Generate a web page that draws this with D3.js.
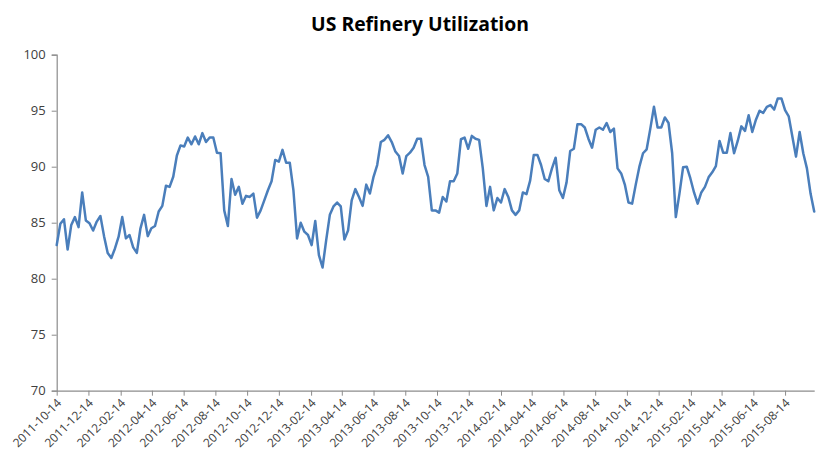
<!DOCTYPE html>
<html>
<head>
<meta charset="utf-8">
<script src="https://cdn.jsdelivr.net/npm/d3@7"></script>
<style>
  html, body { margin: 0; padding: 0; background: #ffffff; }
  svg { display: block; }
</style>
</head>
<body>
<svg id="chart" width="840" height="461"></svg>
<script>
// ---- data ----
const title = "US Refinery Utilization";
const startDate = "2011-10-14";   // first weekly observation (Friday)
const endDate = "2015-10-09";     // last weekly observation
const utilization = [
  83.0, 84.9, 85.3, 82.6, 84.8, 85.5, 84.6, 87.7, 85.2, 84.95,
  84.3, 85.1, 85.6, 83.8, 82.3, 81.85, 82.7, 83.75, 85.5, 83.6,
  83.9, 82.8, 82.3, 84.5, 85.7, 83.8, 84.5, 84.7, 86.0, 86.5,
  88.3, 88.2, 89.1, 91.0, 91.9, 91.8, 92.6, 92.0, 92.7, 92.0,
  93.0, 92.2, 92.6, 92.6, 91.25, 91.2, 86.1, 84.7, 88.9, 87.5,
  88.2, 86.7, 87.4, 87.3, 87.6, 85.45, 86.1, 87.0, 87.9, 88.7,
  90.6, 90.45, 91.5, 90.35, 90.35, 87.9, 83.6, 85.0, 84.2, 83.9,
  83.0, 85.15, 82.1, 81.0, 83.45, 85.7, 86.45, 86.8, 86.45, 83.5,
  84.3, 87.0, 88.0, 87.3, 86.5, 88.4, 87.6, 89.1, 90.15, 92.2,
  92.4, 92.8, 92.2, 91.35, 90.95, 89.4, 90.95, 91.25, 91.7, 92.5,
  92.5, 90.15, 89.1, 86.1, 86.1, 85.9, 87.3, 86.9, 88.7, 88.7,
  89.4, 92.45, 92.6, 91.6, 92.75, 92.5, 92.4, 89.85, 86.5, 88.2,
  86.1, 87.2, 86.8, 88.0, 87.3, 86.1, 85.7, 86.1, 87.7, 87.55,
  88.75, 91.05, 91.05, 90.15, 88.9, 88.7, 89.85, 90.8, 87.9, 87.2,
  88.6, 91.4, 91.6, 93.8, 93.8, 93.5, 92.5, 91.7, 93.3, 93.5,
  93.3, 93.9, 93.1, 93.4, 89.85, 89.4, 88.4, 86.8, 86.7, 88.4,
  90.0, 91.2, 91.55, 93.4, 95.35, 93.5, 93.5, 94.4, 93.9, 91.2,
  85.5, 87.6, 89.95, 90.0, 88.95, 87.7, 86.7, 87.7, 88.2, 89.05,
  89.5, 90.05, 92.3, 91.25, 91.25, 93.0, 91.2, 92.3, 93.6, 93.2,
  94.6, 93.1, 94.2, 95.0, 94.8, 95.35, 95.5, 95.1, 96.1, 96.1,
  95.05, 94.5, 92.7, 90.9, 93.1, 91.2, 89.85, 87.6, 86.0
];
const xTickLabels = [
  "2011-10-14", "2011-12-14", "2012-02-14", "2012-04-14", "2012-06-14", "2012-08-14",
  "2012-10-14", "2012-12-14", "2013-02-14", "2013-04-14", "2013-06-14", "2013-08-14",
  "2013-10-14", "2013-12-14", "2014-02-14", "2014-04-14", "2014-06-14", "2014-08-14",
  "2014-10-14", "2014-12-14", "2015-02-14", "2015-04-14", "2015-06-14", "2015-08-14"
];
const yTicks = [70, 75, 80, 85, 90, 95, 100];
const yDomain = [70, 100];

// ---- layout ----
const W = 840, H = 461;
const plot = { left: 56.7, right: 814.2, top: 54.7, bottom: 390.7 };
const font = "'Open Sans', 'Noto Sans', 'DejaVu Sans', sans-serif";
const axisColor = "#8c8c8c";
const textColor = "#404040";
const lineColor = "#4a7ebb";

const parse = d3.utcParse("%Y-%m-%d");
const t0 = parse(startDate);
const dates = utilization.map((_, i) => d3.utcDay.offset(t0, 7 * i));
const data = utilization.map((v, i) => ({ date: dates[i], value: v }));

const svg = d3.select("#chart");

const x = d3.scaleUtc()
  .domain([t0, parse(endDate)])
  .range([plot.left, plot.right]);
const y = d3.scaleLinear()
  .domain(yDomain)
  .range([plot.bottom, plot.top]);

// title
const titleText = svg.append("text")
  .attr("x", 420)
  .attr("y", 31)
  .attr("text-anchor", "middle")
  .attr("font-family", font)
  .attr("font-weight", "bold")
  .attr("font-size", 20)
  .attr("fill", "#000")
  .text(title);
// fit title width to reference (~218px)
const tw = titleText.node().getComputedTextLength();
titleText.attr("font-size", 20 * 218 / tw);

// y axis
const yAxis = d3.axisLeft(y)
  .tickValues(yTicks)
  .tickSize(5)
  .tickPadding(6)
  .tickFormat(d3.format("d"));
const gy = svg.append("g")
  .attr("transform", `translate(${plot.left},0)`)
  .call(yAxis);
gy.select(".domain").attr("stroke", axisColor).attr("stroke-width", 1.2);
gy.selectAll(".tick line").attr("stroke", axisColor);
gy.selectAll(".tick text")
  .attr("font-family", font)
  .attr("font-size", 13)
  .attr("fill", textColor);

// x axis
const tickDates = xTickLabels.map(parse);
const xAxis = d3.axisBottom(x)
  .tickValues(tickDates)
  .tickSize(5)
  .tickSizeOuter(0)
  .tickFormat(d3.utcFormat("%Y-%m-%d"));
const gx = svg.append("g")
  .attr("transform", `translate(0,${plot.bottom})`)
  .call(xAxis);
gx.select(".domain").attr("stroke", axisColor).attr("stroke-width", 1.2);
gx.selectAll(".tick line").attr("stroke", axisColor);
gx.selectAll(".tick text")
  .attr("font-family", font)
  .attr("font-size", 12)
  .attr("fill", textColor)
  .attr("text-anchor", "end")
  .attr("dy", null)
  .attr("y", null)
  .attr("transform", "translate(5,13) rotate(-45)");

// line
const line = d3.line()
  .x(d => x(d.date))
  .y(d => y(d.value));
svg.append("path")
  .datum(data)
  .attr("fill", "none")
  .attr("stroke", lineColor)
  .attr("stroke-width", 2.5)
  .attr("stroke-linejoin", "round")
  .attr("stroke-linecap", "round")
  .attr("d", line);
</script>
</body>
</html>
